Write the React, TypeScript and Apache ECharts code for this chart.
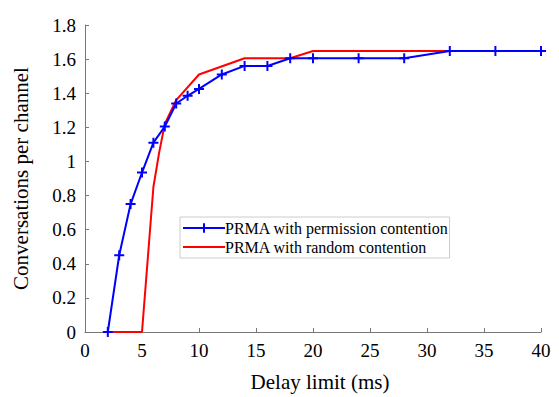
import React, { useEffect, useRef } from "react";
import * as echarts from "echarts";

const blueX = [2, 3, 4, 5, 6, 7, 8, 9, 10, 12, 14, 16, 18, 20, 24, 28, 32, 36, 40];
const blueY = [0, 0.45, 0.75, 0.935, 1.11, 1.205, 1.34, 1.385, 1.425, 1.51, 1.56, 1.56, 1.605, 1.605, 1.605, 1.605, 1.648, 1.648, 1.648];
const redX = [2, 5, 6, 6.5, 7, 8, 10, 14, 18, 20, 40];
const redY = [0, 0, 0.85, 1.05, 1.22, 1.36, 1.51, 1.605, 1.605, 1.648, 1.648];
const seriesNames = ["PRMA with permission contention", "PRMA with random contention"];
const xName = "Delay limit (ms)";
const yName = "Conversations per channel";

const FONT = "Liberation Serif";
const PLUS = "path://M5,0L5,10M0,5L10,5";

export default function App() {
  const ref = useRef<HTMLDivElement>(null);
  useEffect(() => {
    if (!ref.current) return;
    const chart = echarts.init(ref.current, null, { renderer: "svg" });
    const axisLine = { show: true, lineStyle: { color: "#777", width: 1 } };
    chart.setOption({
      animation: false,
      backgroundColor: "#fff",
      grid: { left: 85, right: 18, top: 25, bottom: 64 },
      legend: {
        left: 180,
        top: 217,
        orient: "vertical",
        itemGap: 3,
        itemWidth: 42,
        itemHeight: 12,
        padding: [3, 1, 3, 2],
        borderColor: "#ccc",
        borderWidth: 1,
        backgroundColor: "#fff",
        textStyle: { fontFamily: FONT, fontSize: 16, color: "#000", padding: [0, 0, 0, -5] },
        data: [
          { name: seriesNames[0] },
          { name: seriesNames[1], itemStyle: { opacity: 0 } },
        ],
      },
      xAxis: {
        type: "value",
        min: 0,
        max: 40,
        interval: 5,
        name: xName,
        nameLocation: "middle",
        nameGap: 39,
        nameTextStyle: { fontFamily: FONT, fontSize: 21, color: "#000", padding: [0, 0, 0, 14] },
        axisLine,
        axisTick: { show: true, inside: true, length: 4, lineStyle: { color: "#777" } },
        axisLabel: { fontFamily: FONT, fontSize: 19, color: "#000", margin: 9 },
        splitLine: { show: false },
      },
      yAxis: {
        type: "value",
        min: 0,
        max: 1.8,
        interval: 0.2,
        name: yName,
        nameLocation: "middle",
        nameGap: 54,
        nameTextStyle: { fontFamily: FONT, fontSize: 21, color: "#000" },
        axisLine,
        axisTick: { show: true, inside: true, length: 4, lineStyle: { color: "#777" } },
        axisLabel: { fontFamily: FONT, fontSize: 19, color: "#000", margin: 9 },
        splitLine: { show: false },
      },
      series: [
        {
          name: seriesNames[0],
          type: "line",
          data: blueX.map((x, i) => [x, blueY[i]]),
          symbol: PLUS,
          symbolSize: 10,
          showAllSymbol: true,
          lineStyle: { color: "#0000ff", width: 2 },
          itemStyle: { color: "#0000ff", borderColor: "#0000ff", borderWidth: 2 },
          z: 3,
        },
        {
          name: seriesNames[1],
          type: "line",
          data: redX.map((x, i) => [x, redY[i]]),
          symbol: "none",
          lineStyle: { color: "#ff0000", width: 2 },
          itemStyle: { color: "#ff0000" },
          z: 2,
        },
      ],
    });
    return () => chart.dispose();
  }, []);
  return <div ref={ref} style={{ width: 559, height: 397, position: "absolute", left: 0, top: 0 }} />;
}
